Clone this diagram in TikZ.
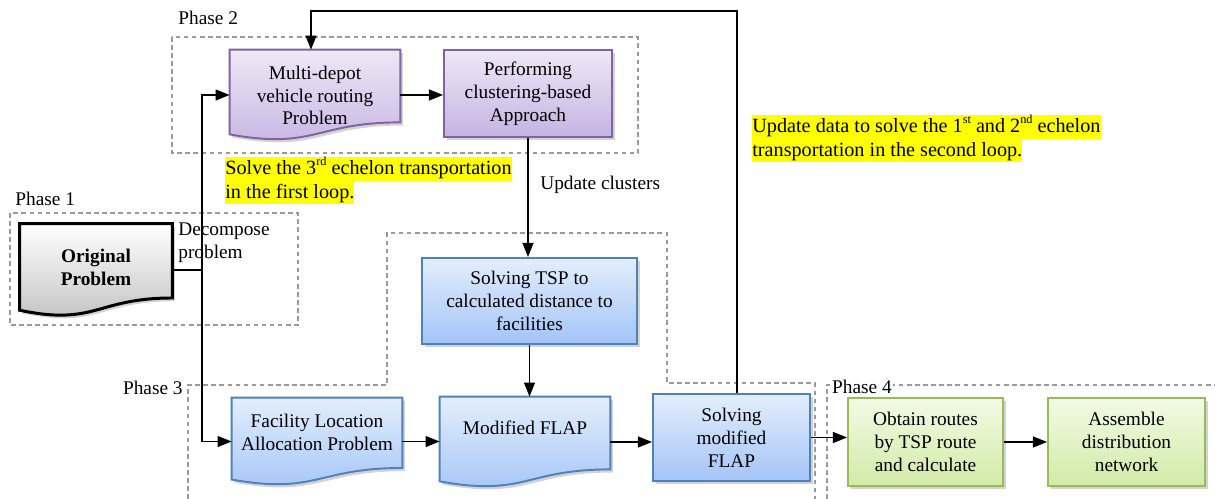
\documentclass[tikz,border=0pt]{standalone}
\usepackage{fontspec}
\setmainfont{Liberation Serif}
\usetikzlibrary{calc,shadows,arrows.meta}
\definecolor{purpB}{HTML}{8064A2}
\definecolor{purpT}{HTML}{EEE8F6}
\definecolor{purpL}{HTML}{C6B3E2}
\definecolor{blueB}{HTML}{4F81BD}
\definecolor{blueT}{HTML}{E3EEFC}
\definecolor{blueL}{HTML}{A3C4F7}
\definecolor{greenB}{HTML}{9BBB59}
\definecolor{greenT}{HTML}{F3FAE6}
\definecolor{greenL}{HTML}{D0EBA6}
\definecolor{phasegray}{HTML}{9A9A9A}
\definecolor{hl}{HTML}{FFFF00}
\tikzset{
  boxfont/.style={font=\fontsize{11}{13}\selectfont, align=center},
  frame/.style={draw=none, inner sep=0pt},
  shad/.style={drop shadow={opacity=0.35, shadow xshift=1.5pt, shadow yshift=-1.8pt}},
  purplefill/.style={shad, draw=purpB, line width=1.1pt, top color=purpT, bottom color=purpL},
  bluefill/.style={shad, draw=blueB, line width=1.1pt, top color=blueT, bottom color=blueL},
  greenfill/.style={shad, draw=greenB, line width=1.1pt, top color=greenT, bottom color=greenL},
  grayfill/.style={shad, draw=black, line width=1.7pt, top color=white, bottom color=black!25},
  phase/.style={draw=phasegray, line width=0.6pt, dash pattern=on 2.6pt off 2pt},
  phaselabel/.style={font=\fontsize{11}{13}\selectfont, inner sep=0pt},
  conn/.style={line width=0.75pt, -{Triangle[length=8pt,width=6.2pt]}},
  plain/.style={line width=0.75pt},
  hlline/.style={fill=hl, inner sep=0pt, font=\fontsize{11.5}{13}\selectfont, text height=9.6pt, text depth=3.6pt, anchor=west},
  note/.style={font=\fontsize{11}{13}\selectfont, inner sep=0pt}
}
\newcommand{\docpath}[1]{(#1.north west) -- (#1.north east) -- ($(#1.north east)!0.802!(#1.south east)$) .. controls ($(#1.north)!0.802!(#1.south)$) and ($(#1.north)!1.107!(#1.south)$) .. ($(#1.north west)!0.934!(#1.south west)$) -- cycle}
\newcommand{\supx}[1]{\raisebox{0.9ex}{\fontsize{7}{8}\selectfont #1}}
\begin{document}
\begin{tikzpicture}[x=0.02cm,y=-0.02cm]
\useasboundingbox (0,0) rectangle (1215,499);

% phase frames
\draw[phase] (10,213) rectangle (298,325);
\draw[phase] (172,37) rectangle (638,153);
\draw[phase] (188,499) -- (188,385) -- (387,385) -- (387,233) -- (667,233) -- (667,383) -- (815,383) -- (815,499);
\draw[phase] (827,499) -- (827,385) -- (1215,385);

\node[phaselabel, anchor=west] (p1) at (15,199) {Phase 1};
\node[phaselabel, anchor=west] (p2) at (178,18) {Phase 2};
\node[phaselabel, anchor=east] (p3) at (183,388) {Phase 3};
\node[phaselabel, anchor=west, fill=white, inner xsep=1pt] (p4) at (830,387) {Phase 4};

% frames (invisible) of the shapes
\node[frame, minimum width=152*0.02cm, minimum height=92*0.02cm] (orig) at (96,270) {};
\node[frame, minimum width=170*0.02cm, minimum height=90*0.02cm] (mdvrp) at (315,95) {};
\node[frame, minimum width=170*0.02cm, minimum height=87*0.02cm] (flap) at (317,441.5) {};
\node[frame, minimum width=170*0.02cm, minimum height=90*0.02cm] (mflap) at (525,442) {};

\path[grayfill] \docpath{orig};
\path[purplefill] \docpath{mdvrp};
\path[bluefill] \docpath{flap};
\path[bluefill] \docpath{mflap};

\node[boxfont, font=\fontsize{11}{13}\selectfont\bfseries] (origt) at (96,267) {Original\\Problem};
\node[boxfont] (mdvrpt) at (315,95.5) {Multi-depot\\vehicle routing\\Problem};
\node[boxfont] (flapt) at (317,432) {Facility Location\\Allocation Problem};
\node[boxfont] (mflapt) at (525,428) {Modified FLAP};

% rectangular boxes
\node[boxfont, purplefill, minimum width=168*0.02cm, minimum height=87*0.02cm] (perf) at (528,93.5) {Performing\\clustering-based\\Approach};
\node[boxfont, bluefill, minimum width=215*0.02cm, minimum height=86*0.02cm] (tsp) at (529.5,301) {Solving TSP to\\calculated distance to\\facilities};
\node[boxfont, bluefill, minimum width=157*0.02cm, minimum height=87*0.02cm] (solv) at (731.5,437.5) {Solving\\modified\\FLAP};
\node[boxfont, greenfill, minimum width=155*0.02cm, minimum height=88*0.02cm] (obtain) at (925.5,442) {Obtain routes\\by TSP route\\and calculate};
\node[boxfont, greenfill, minimum width=157*0.02cm, minimum height=88*0.02cm] (assem) at (1126.5,442) {Assemble\\distribution\\network};

% notes
\node[note, align=left, anchor=west] (decomp) at (178,243) {Decompose\\problem};
\node[note, anchor=west] (updc) at (540,185) {Update clusters};
\node[hlline] (s1) at (225,169) {Solve the 3\supx{rd} echelon transportation};
\node[hlline, anchor=north west] (s2) at (s1.south west) {in the first loop.};
\node[hlline] (u1) at (752,127) {Update data to solve the 1\supx{st} and 2\supx{nd} echelon};
\node[hlline, anchor=north west] (u2) at (u1.south west) {transportation in the second loop.};

% connectors
\coordinate (j) at (202,270);
\draw[plain] (orig.east |- j) -- (j);
\draw[conn] (j) |- (mdvrp.west);
\draw[conn] (j) |- (flap.west);
\draw[conn] (mdvrp.east) -- (perf.west |- mdvrp.east);
\draw[conn] (perf.south) -- (perf.south |- tsp.north);
\draw[conn] (tsp.south) -- (tsp.south |- mflap.north);
\draw[conn] (flap.east) -- (mflap.west |- flap.east);
\draw[conn] (mflap.east) -- (solv.west |- mflap.east);
\draw[conn] (solv.east) -- (obtain.west |- solv.east);
\draw[conn] (obtain.east) -- (assem.west);
\coordinate (fbR) at (737,11);
\coordinate (fbL) at (311,11);
\draw[conn] (fbR |- solv.north) -- (fbR) -- (fbL) -- (fbL |- mdvrp.north);
\end{tikzpicture}
\end{document}
